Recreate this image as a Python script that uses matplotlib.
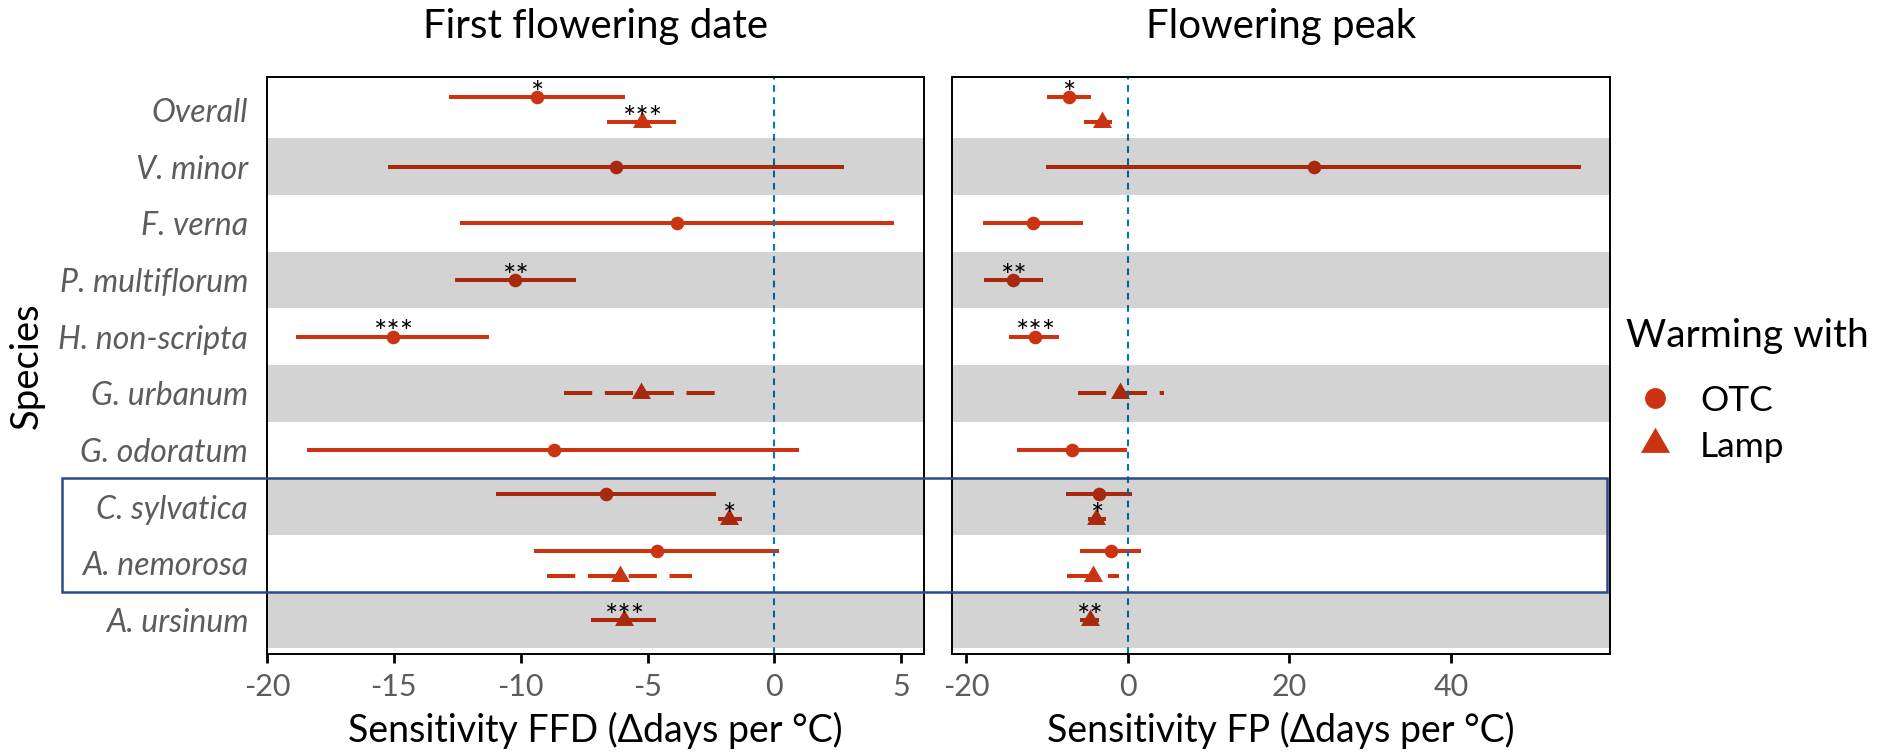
import matplotlib
matplotlib.use("Agg")
import matplotlib.pyplot as plt
import matplotlib.transforms as mtransforms
from matplotlib.patches import Rectangle
from matplotlib.lines import Line2D

# ---------------- data ----------------
species = ["Overall", "V. minor", "F. verna", "P. multiflorum", "H. non-scripta",
           "G. urbanum", "G. odoratum", "C. sylvatica", "A. nemorosa", "A. ursinum"]

# First flowering date (FFD)
ffd_species = ["Overall", "Overall", "V. minor", "F. verna", "P. multiflorum", "H. non-scripta",
               "G. urbanum", "G. odoratum", "C. sylvatica", "C. sylvatica",
               "A. nemorosa", "A. nemorosa", "A. ursinum"]
ffd_treat = ["OTC", "Lamp", "OTC", "OTC", "OTC", "OTC", "Lamp", "OTC", "OTC", "Lamp", "OTC", "Lamp", "Lamp"]
ffd_est = [-9.36, -5.22, -6.25, -3.83, -10.22, -15.04, -5.26, -8.70, -6.64, -1.78, -4.64, -6.09, -5.94]
ffd_lo = [-12.83, -6.61, -15.23, -12.39, -12.60, -18.86, -8.28, -18.43, -10.97, -2.23, -9.48, -8.97, -7.22]
ffd_hi = [-5.87, -3.87, 2.75, 4.72, -7.80, -11.23, -2.35, 0.96, -2.31, -1.28, 0.17, -3.23, -4.66]
ffd_sig = ["*", "***", "", "", "**", "***", "", "", "", "*", "", "", "***"]
ffd_dashed = [False, False, False, False, False, False, True, False, False, False, False, True, False]

# Flowering peak (FP)
fp_species = ffd_species
fp_treat = ffd_treat
fp_est = [-7.31, -3.17, 23.06, -11.77, -14.19, -11.56, -0.97, -6.94, -3.55, -3.93, -2.04, -4.36, -4.73]
fp_lo = [-10.00, -5.43, -10.10, -18.00, -17.85, -14.68, -6.24, -13.78, -7.70, -5.00, -5.92, -7.59, -5.92]
fp_hi = [-4.62, -1.94, 56.10, -5.54, -10.48, -8.49, 4.41, -0.16, 0.48, -2.74, 1.61, -1.08, -3.55]
fp_sig = ["*", "", "", "", "**", "***", "", "", "", "*", "", "", "**"]
fp_dashed = ffd_dashed

titles = ["First flowering date", "Flowering peak"]
xlabels = ["Sensitivity FFD (\u0394days per \u00b0C)", "Sensitivity FP (\u0394days per \u00b0C)"]
ffd_ticks = [-20, -15, -10, -5, 0, 5]
fp_ticks = [-20, 0, 20, 40]
treatments = ["OTC", "Lamp"]

# ---------------- style ----------------
plt.rcParams["font.family"] = ["Lato", "DejaVu Sans"]
plt.rcParams["lines.scale_dashes"] = False

RED = "#CC3311"
BLUE = "#0077BB"
GRAY_TXT = "#5C5C5C"
TRI = [(-1.0, -0.577), (1.0, -0.577), (0.0, 1.155)]
MARK = {"OTC": ("o", 9.8), "Lamp": (TRI, 15.8)}
DODGE = {"OTC": 0.22, "Lamp": -0.22}

W, H = 1883, 753
fig = plt.figure(figsize=(W / 100, H / 100), dpi=100)


def axrect(l, t, r, b):
    return [l / W, 1 - b / H, (r - l) / W, (b - t) / H]


ax1 = fig.add_axes(axrect(267, 77, 924, 654))
ax2 = fig.add_axes(axrect(952.5, 77, 1610, 654))

n = len(species)
ypos = {s: n - i for i, s in enumerate(species)}


def draw_panel(ax, sp, tr, est, lo, hi, sig, dashed, xlim, ticks):
    counts = {s: sp.count(s) for s in species}
    for s, t, e, l, h, g, d in zip(sp, tr, est, lo, hi, sig, dashed):
        y = ypos[s] + (DODGE[t] if counts[s] > 1 else 0.0)
        ls = (0, (20.3, 9.1)) if d else "solid"
        ax.plot([l, h], [y, y], color=RED, lw=2.9, ls=ls,
                solid_capstyle="butt", dash_capstyle="butt", zorder=2)
        m, ms = MARK[t]
        ax.plot([e], [y], marker=m, ms=ms, color=RED, mec="none", ls="none", zorder=3)
        if g:
            ax.text(e, y - 0.10, g, ha="center", va="baseline", fontsize=22.5,
                    color="black", zorder=7)
    for i, s in enumerate(species):
        if i % 2 == 1:
            ax.axhspan(ypos[s] - 0.5, ypos[s] + 0.5, color="black", alpha=0.172,
                       lw=0, zorder=5)
    ax.axvline(0, color=BLUE, lw=1.5, ls=(0, (4.8, 4.0)), zorder=4)
    ax.set_xlim(*xlim)
    ax.set_ylim(0.40, n + 0.58)
    ax.set_xticks(ticks)
    ax.set_xticklabels([str(v) for v in ticks])
    ax.tick_params(axis="x", length=6.5, width=2.0, color="black", labelsize=22,
                   labelcolor=GRAY_TXT, pad=7)
    ax.tick_params(axis="y", length=0)
    for sp_ in ax.spines.values():
        sp_.set_linewidth(1.4)
        sp_.set_color("black")
        sp_.set_zorder(8)


draw_panel(ax1, ffd_species, ffd_treat, ffd_est, ffd_lo, ffd_hi, ffd_sig, ffd_dashed,
           (-20.0, 5.9), ffd_ticks)
draw_panel(ax2, fp_species, fp_treat, fp_est, fp_lo, fp_hi, fp_sig, fp_dashed,
           (-21.73, 59.7), fp_ticks)

ax1.set_yticks([ypos[s] for s in species])
ax1.set_yticklabels(species, fontstyle="italic", color=GRAY_TXT, fontsize=23)
ax1.tick_params(axis="y", pad=13.5)
ax2.set_yticks([])

# titles and axis titles
for ax, t, xl in zip([ax1, ax2], titles, xlabels):
    bb = ax.get_position()
    xc = (bb.x0 + bb.x1) / 2
    fig.text(xc, 1 - 38.3 / H, t, ha="center", va="baseline", fontsize=29, color="black")
    fig.text(xc, 1 - 742 / H, xl, ha="center", va="baseline", fontsize=27, color="black")

bb = ax1.get_position()
fig.text(27 / W, (bb.y0 + bb.y1) / 2, "Species", rotation=90, ha="center", va="center",
         fontsize=27.5, color="black")

# legend
fig.text(1626 / W, 1 - 347.5 / H, "Warming with", ha="left", va="baseline", fontsize=28,
         color="black")
leg_y = [398, 444]
for t, yy in zip(treatments, leg_y):
    m, ms = MARK[t]
    fig.add_artist(Line2D([1655 / W], [1 - yy / H], transform=fig.transFigure, marker=m,
                          ms=ms * 1.53, color=RED, mec="none", ls="none"))
    fig.text(1700 / W, 1 - (yy + 13) / H, t, ha="left", va="baseline", fontsize=25.5,
             color="black")

# highlight box around C. sylvatica and A. nemorosa
trans = mtransforms.blended_transform_factory(fig.transFigure, ax1.transData)
y0 = ypos["A. nemorosa"] - 0.5
y1 = ypos["C. sylvatica"] + 0.5
box = Rectangle((62 / W, y0), (1607 - 62) / W, y1 - y0, transform=trans, fill=False,
                edgecolor="#2D4B8A", lw=1.8, clip_on=False, zorder=20)
fig.add_artist(box)

fig.savefig("out.png", dpi=100)
